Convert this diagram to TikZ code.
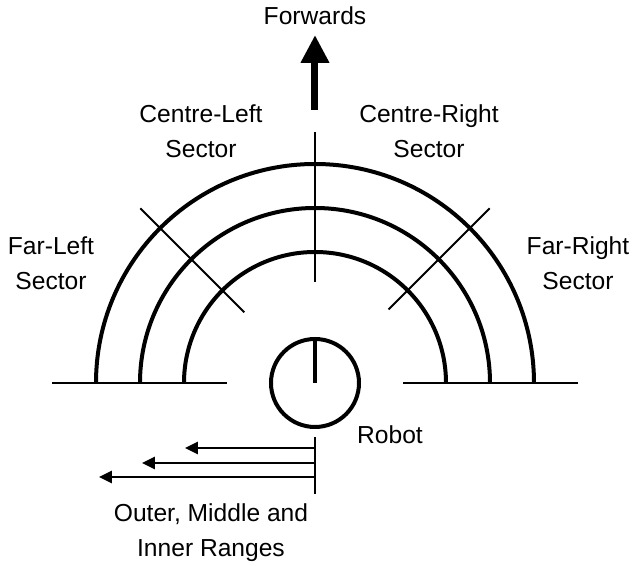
\documentclass[tikz,border=0pt]{standalone}
\usepackage{fontspec}
\setmainfont{Liberation Sans}
\usetikzlibrary{arrows.meta}

\begin{document}
\begin{tikzpicture}[x=0.5pt,y=0.5pt,>={Triangle[length=6.5pt,width=6pt]},
  ring/.style={line width=2pt},
  thin_line/.style={line width=1pt},
  lab/.style={align=center,font=\fontsize{12.3}{17.5}\selectfont,inner sep=0pt}]
\useasboundingbox (-315,-183) rectangle (318,383);
% ground line either side of the robot
\draw[thin_line] (-263,0) -- (-88,0);
\draw[thin_line] (88,0) -- (263,0);
% range rings
\foreach \r in {131,175,219}
  \draw[ring] (-\r,0) arc[start angle=180,end angle=0,radius=\r];
% sector boundaries
\draw[thin_line] (0,101) -- (0,251);
\draw[thin_line] (135:100) -- (135:247);
\draw[thin_line] (45:104) -- (45:247);
% robot
\node[circle,draw,ring,minimum size=44pt,inner sep=0pt] (robot) at (0,0) {};
\draw[ring] (robot.center) -- (robot.north);
\node[lab] (robot_lab) at (75,-52) {Robot};
% forwards
\node[lab] (fwd) at (0,367) {Forwards};
\coordinate (fwd_base) at (0,273);
\coordinate (fwd_tip) at (0,348);
\draw[-{Triangle[length=14pt,width=13.5pt]},line width=3.5pt] (fwd_base) -- (fwd_tip);
% sector labels
\node[lab] (cl_lab) at (-114,252) {Centre-Left\\Sector};
\node[lab] (cr_lab) at (114,252) {Centre-Right\\Sector};
\node[lab] (fl_lab) at (-264,120) {Far-Left\\Sector};
\node[lab] (fr_lab) at (263,120) {Far-Right\\Sector};
% ranges
\coordinate (rng_top) at (0,-54);
\coordinate (rng_bot) at (0,-111);
\draw[thin_line] (rng_top) -- (rng_bot);
\foreach \y/\x [count=\i] in {-65/-130,-80/-173,-94/-216} {
  \coordinate (rng_start\i) at (0,\y);
  \coordinate (rng_tip\i) at (\x,\y);
  \draw[->,line width=1.3pt] (rng_start\i) -- (rng_tip\i);
}
\node[lab] (rng_lab) at (-104,-150) {Outer, Middle and\\Inner Ranges};
\end{tikzpicture}
\end{document}
